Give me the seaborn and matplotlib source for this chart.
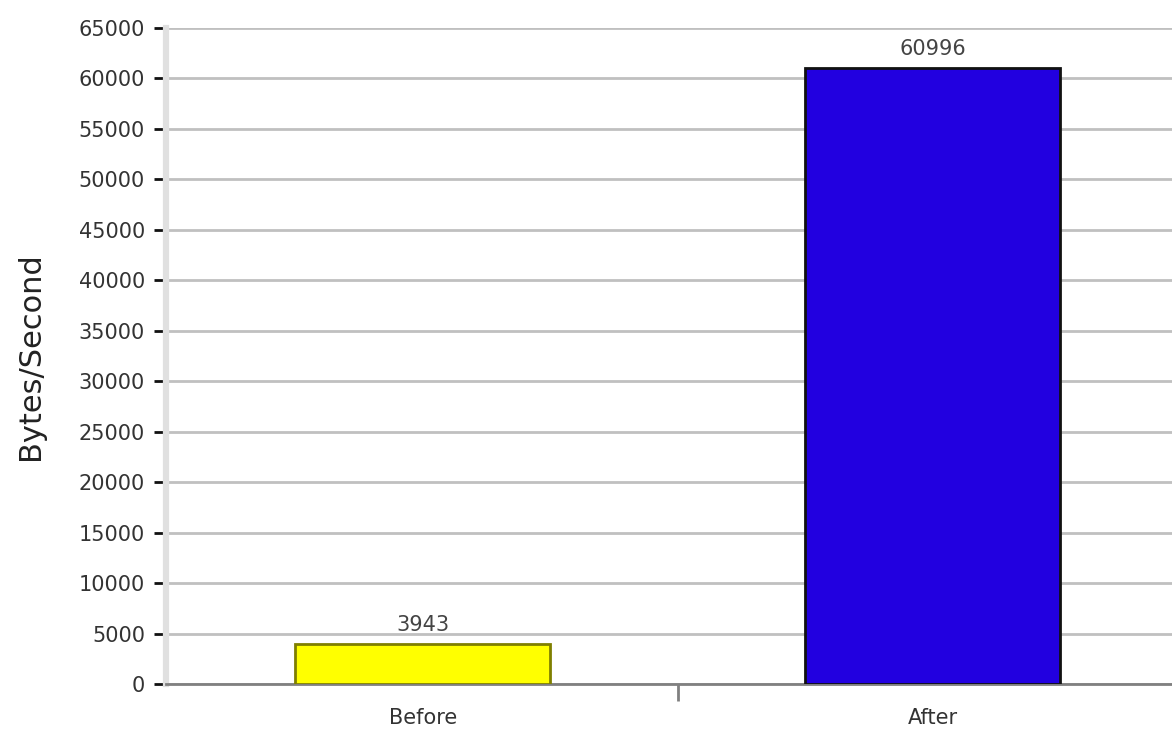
import pandas as pd
import matplotlib.pyplot as plt
import seaborn as sns
from matplotlib.ticker import MultipleLocator, FixedLocator

categories = ['Before', 'After']
values = [3943, 60996]
bar_colors = ['#FFFF00', '#2200E0']
edge_colors = ['#7F7F00', '#111111']

df = pd.DataFrame({'stage': categories, 'rate': values})

sns.set_style('white')
fig = plt.figure(figsize=(11.72, 7.31), dpi=100)
ax = fig.add_axes([0.1416, 0.0643, 0.8584, 0.8974])

sns.barplot(data=df, x='stage', y='rate', hue='stage', palette=bar_colors,
            saturation=1, width=0.5, legend=False, ax=ax, zorder=3)
for patch, ec in zip(ax.patches, edge_colors):
    patch.set_edgecolor(ec)
    patch.set_linewidth(2)

for i, v in enumerate(values):
    ax.text(i, v + 900, str(v), ha='center', va='bottom', fontsize=15, color='#444444')

ax.set_ylim(0, 65000)
ax.set_xlim(-0.504, 1.47)
ax.yaxis.set_major_locator(MultipleLocator(5000))
ax.xaxis.set_minor_locator(FixedLocator([0.5]))
ax.grid(axis='y', color='#c0c0c0', linewidth=2, zorder=0)
ax.set_axisbelow(True)

for s in ['top', 'right']:
    ax.spines[s].set_visible(False)
ax.spines['left'].set_color('#e0e0e0')
ax.spines['left'].set_linewidth(4.5)
ax.spines['bottom'].set_color('#808080')
ax.spines['bottom'].set_linewidth(2)

ax.tick_params(axis='y', left=True, length=9, width=2, color='#111111',
               labelsize=15, labelcolor='#333333', pad=6)
ax.tick_params(axis='x', which='major', bottom=False, labelsize=15,
               labelcolor='#333333', pad=14)
ax.tick_params(axis='x', which='minor', bottom=True, length=12, width=2,
               color='#808080')

ax.set_xlabel('')
ax.set_ylabel('Bytes/Second', fontsize=22, color='#222222', labelpad=24)

fig.savefig('out.png', dpi=100)
